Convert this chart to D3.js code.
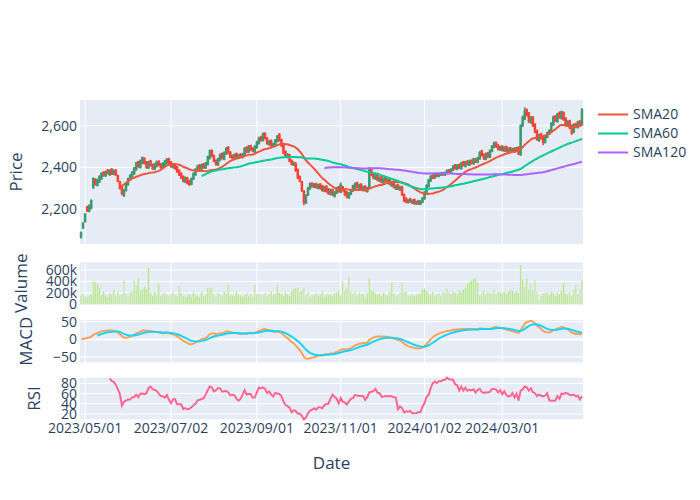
<!DOCTYPE html>
<html><head><meta charset="utf-8">
<script src="https://cdn.jsdelivr.net/npm/d3@7"></script>
<style>body{margin:0;background:#fff}svg{display:block;font-family:"Open Sans",verdana,arial,sans-serif}</style>
</head><body><svg id="c" width="700" height="500"></svg>
<script>
// ---- data ----
const opens = [
2065,2110,2140,2210,2190,2205,2305,2340,2315,2330,
2345,2375,2360,2385,2365,2390,2368,2385,2360,2330,
2305,2265,2290,2318,2340,2355,2370,2390,2425,2400,
2420,2442,2425,2398,2430,2412,2392,2405,2428,2415,
2398,2410,2420,2440,2425,2400,2412,2400,2385,2370,
2355,2330,2348,2335,2320,2345,2365,2385,2410,2392,
2415,2398,2415,2445,2480,2455,2432,2412,2435,2465,
2440,2465,2495,2472,2455,2440,2465,2445,2462,2448,
2460,2495,2475,2502,2490,2475,2495,2515,2545,2530,
2562,2540,2510,2528,2500,2510,2525,2558,2532,2505,
2475,2448,2458,2432,2412,2418,2388,2355,2330,2285,
2230,2268,2298,2322,2305,2320,2300,2318,2310,2288,
2308,2295,2272,2292,2262,2278,2305,2282,2305,2292,
2280,2255,2272,2288,2300,2325,2300,2318,2290,2308,
2285,2300,2390,2370,2345,2368,2335,2355,2325,2350,
2325,2345,2312,2332,2298,2315,2292,2305,2268,2250,
2232,2248,2230,2244,2226,2238,2224,2234,2250,2278,
2310,2336,2360,2350,2366,2358,2364,2372,2364,2372,
2386,2376,2388,2410,2392,2412,2395,2425,2405,2428,
2412,2432,2418,2438,2425,2442,2478,2460,2440,2468,
2450,2478,2498,2518,2505,2485,2500,2480,2498,2475,
2492,2478,2490,2478,2495,2462,2600,2632,2675,2660,
2615,2640,2605,2575,2530,2560,2545,2520,2545,2560,
2572,2605,2645,2620,2662,2635,2662,2635,2600,2622,
2600,2570,2608,2592,2620,2605];
const highs = [
2092,2136,2180,2216,2222,2246,2352,2348,2346,2362,
2376,2381,2384,2392,2390,2396,2390,2391,2364,2336,
2311,2296,2326,2350,2367,2381,2402,2426,2431,2437,
2452,2448,2430,2431,2436,2418,2421,2432,2434,2420,
2424,2436,2445,2446,2430,2421,2418,2406,2390,2376,
2361,2356,2354,2340,2351,2376,2396,2412,2416,2418,
2421,2426,2456,2486,2486,2461,2438,2446,2467,2471,
2476,2498,2502,2478,2461,2466,2471,2464,2468,2469,
2496,2501,2507,2509,2496,2506,2527,2547,2551,2567,
2568,2546,2531,2534,2518,2536,2555,2564,2538,2511,
2481,2468,2464,2438,2428,2424,2394,2361,2336,2290,
2271,2306,2327,2328,2325,2326,2321,2324,2316,2311,
2314,2301,2297,2298,2287,2306,2311,2328,2311,2298,
2286,2281,2297,2316,2327,2331,2321,2324,2311,2314,
2306,2400,2396,2376,2371,2374,2356,2361,2351,2356,
2346,2351,2336,2338,2318,2321,2311,2311,2274,2256,
2248,2254,2246,2250,2240,2244,2242,2258,2286,2318,
2345,2362,2367,2370,2372,2373,2377,2378,2380,2390,
2392,2396,2411,2416,2416,2418,2426,2431,2431,2434,
2437,2438,2446,2444,2451,2478,2484,2466,2471,2474,
2486,2507,2524,2524,2511,2504,2506,2501,2504,2496,
2498,2494,2496,2498,2501,2606,2648,2688,2682,2666,
2646,2646,2611,2581,2561,2566,2551,2556,2571,2582,
2616,2648,2651,2661,2668,2672,2668,2641,2626,2628,
2606,2611,2614,2624,2626,2685];
const lows = [
2058,2104,2135,2186,2184,2198,2296,2312,2308,2325,
2340,2355,2354,2366,2358,2363,2362,2359,2328,2294,
2266,2257,2284,2312,2334,2349,2364,2384,2398,2394,
2414,2414,2393,2392,2404,2388,2386,2399,2405,2394,
2392,2404,2414,2413,2398,2394,2388,2374,2358,2344,
2328,2324,2318,2310,2314,2339,2359,2379,2388,2386,
2393,2392,2409,2438,2448,2424,2408,2406,2429,2438,
2434,2459,2463,2444,2438,2434,2444,2439,2446,2442,
2454,2468,2469,2478,2472,2469,2489,2509,2523,2524,
2533,2508,2504,2498,2494,2504,2519,2523,2498,2462,
2446,2442,2424,2409,2406,2378,2343,2328,2282,2218,
2224,2262,2292,2303,2299,2298,2294,2293,2283,2281,
2278,2268,2265,2262,2255,2272,2278,2276,2283,2263,
2252,2248,2266,2282,2294,2298,2294,2288,2284,2283,
2279,2294,2358,2343,2339,2333,2328,2323,2319,2328,
2319,2313,2306,2298,2291,2291,2286,2262,2232,2228,
2226,2230,2224,2220,2219,2220,2218,2228,2244,2272,
2304,2330,2343,2344,2352,2352,2358,2359,2358,2366,
2372,2370,2382,2389,2386,2392,2389,2404,2399,2409,
2406,2413,2412,2421,2419,2436,2451,2435,2434,2445,
2444,2472,2492,2494,2481,2479,2476,2474,2471,2469,
2474,2472,2469,2472,2458,2455,2594,2626,2644,2613,
2609,2594,2563,2528,2522,2533,2506,2514,2539,2554,
2566,2599,2618,2614,2633,2629,2623,2598,2594,2583,
2555,2564,2588,2586,2594,2599];
const closes = [
2085,2130,2175,2192,2215,2240,2345,2320,2340,2355,
2370,2362,2378,2372,2385,2370,2383,2365,2335,2300,
2275,2290,2320,2345,2360,2375,2395,2420,2405,2430,
2445,2420,2400,2425,2410,2395,2415,2425,2412,2400,
2418,2430,2438,2420,2405,2415,2395,2380,2365,2350,
2335,2350,2325,2318,2345,2370,2390,2405,2395,2412,
2400,2420,2450,2478,2455,2430,2415,2440,2460,2445,
2470,2490,2470,2450,2445,2460,2450,2458,2452,2462,
2490,2475,2500,2485,2478,2500,2520,2540,2530,2560,
2540,2515,2525,2505,2512,2530,2548,2530,2505,2470,
2452,2462,2430,2415,2422,2385,2350,2335,2290,2232,
2265,2300,2320,2310,2318,2305,2315,2300,2290,2305,
2285,2275,2290,2270,2280,2300,2285,2315,2290,2270,
2260,2275,2290,2310,2320,2305,2315,2295,2305,2290,
2300,2385,2365,2350,2365,2340,2350,2330,2345,2335,
2340,2320,2330,2305,2312,2298,2305,2270,2240,2235,
2242,2236,2240,2228,2234,2226,2236,2252,2280,2312,
2338,2356,2350,2364,2359,2367,2371,2365,2374,2384,
2378,2390,2405,2395,2410,2398,2420,2410,2425,2415,
2430,2420,2440,2428,2445,2470,2458,2442,2465,2452,
2480,2500,2515,2500,2488,2498,2482,2495,2478,2490,
2480,2488,2475,2492,2465,2600,2640,2670,2650,2620,
2640,2600,2570,2535,2555,2540,2520,2550,2565,2575,
2610,2640,2625,2655,2640,2665,2630,2605,2620,2590,
2565,2605,2595,2618,2600,2675];
// volume in thousands
const volumesK = [
150,190,140,130,150,170,400,390,350,300,
170,230,160,140,200,180,270,150,220,160,
180,420,190,150,200,230,420,330,460,250,
270,310,270,640,200,160,220,170,370,150,
190,200,170,150,180,220,170,150,330,200,
150,140,160,180,130,210,170,150,140,230,
150,180,300,280,290,180,140,200,170,160,
230,190,340,170,160,150,230,170,160,140,
180,200,150,170,140,350,180,190,170,160,
200,150,180,230,160,190,350,200,170,150,
210,180,160,240,280,290,300,220,240,300,
170,230,140,160,170,200,150,180,230,140,
170,160,180,150,190,210,240,160,400,250,
300,490,220,180,230,150,210,170,190,140,
200,460,260,230,200,170,190,150,210,180,
160,230,390,200,150,180,200,380,220,230,
160,150,170,150,180,170,190,260,280,250,
200,180,220,160,170,200,150,220,200,280,
210,180,230,200,190,250,220,260,300,370,
390,420,460,470,380,160,200,260,180,220,
200,190,270,180,230,210,200,230,190,220,
260,240,200,230,210,700,440,310,450,270,
370,250,420,230,80,150,190,200,210,170,
230,200,150,220,180,240,390,200,170,220,
160,250,350,190,280,430];
const tickLabels = ['2023/05/01','2023/07/02','2023/09/01','2023/11/01','2024/01/02','2024/03/01'];
const tickIdx = [2,44,86,127,168,206];
const smaPeriods = [20,60,120];
const smaNames = ['SMA20','SMA60','SMA120'];
const smaColors = ['#EF553B','#00CC96','#AB63FA'];

// ---- derived indicators (computed from the closes above) ----
const N = closes.length;
const volumes = volumesK.map(v => v * 1000);
function sma(arr, n){ return arr.map((_, i) => i < n-1 ? null : d3.mean(arr.slice(i-n+1, i+1))); }
function ewm(arr, span){ const a = 2/(span+1); let num=0, den=0; return arr.map(v => { num = v + (1-a)*num; den = 1 + (1-a)*den; return num/den; }); }
const ema12 = ewm(closes, 12), ema26 = ewm(closes, 26);
const macd = ema12.map((v,i) => v - ema26[i]);
const signalFull = ewm(macd, 9);
const signal = signalFull.map((v,i) => i < 8 ? null : v);
const rsi = closes.map((c,i) => {
  if (i < 14) return null;
  let g=0, l=0;
  for (let k=i-13;k<=i;k++){ const d = closes[k]-closes[k-1]; if (d>0) g+=d; else l-=d; }
  if (l===0) return 100;
  return 100 - 100/(1+g/l);
});
const smas = smaPeriods.map(p => sma(closes, p));

// ---- drawing ----
const svg = d3.select('#c');
const txt = '#2a3f5f', bg = '#E5ECF6';
const L = 80, R = 583;
const x = d3.scaleLinear().domain([-0.5, N-0.5]).range([L, R]);
const step = x(1) - x(0);

const panels = [
  {name:'Price', top:100, bot:244, dom:[2032,2723], ticks:[2200,2400,2600], fmt:d3.format(','), tx:22},
  {name:'Valume', top:262.3, bot:304.3, dom:[0,735000], ticks:[0,200000,400000,600000], fmt:d => d===0?'0':d3.format('~s')(d), tx:27},
  {name:'MACD', top:320, bot:362.3, dom:[-65,55], ticks:[-50,0,50], fmt:d3.format('d'), tx:32, zero:true},
  {name:'RSI', top:377.7, bot:419.3, dom:[9.6,91], ticks:[20,40,60,80], fmt:d3.format('d'), tx:40}
];
panels.forEach(p => {
  p.y = d3.scaleLinear().domain(p.dom).range([p.bot, p.top]);
  const g = svg.append('g');
  g.append('rect').attr('x', L).attr('y', p.top).attr('width', R-L).attr('height', p.bot-p.top).attr('fill', bg);
  g.selectAll('line.vg').data(tickIdx).join('line')
    .attr('x1', d => x(d)).attr('x2', d => x(d)).attr('y1', p.top).attr('y2', p.bot)
    .attr('stroke', '#fff').attr('stroke-width', 1);
  g.selectAll('line.hg').data(p.ticks).join('line')
    .attr('x1', L).attr('x2', R).attr('y1', d => p.y(d)).attr('y2', d => p.y(d))
    .attr('stroke', '#fff').attr('stroke-width', d => (d===0 && p.zero) ? 2 : 1);
  const ax = d3.axisLeft(p.y).tickValues(p.ticks).tickFormat(p.fmt).tickSize(0).tickPadding(3);
  const ag = svg.append('g').attr('transform', `translate(${L},0)`).call(ax);
  ag.select('.domain').remove();
  ag.selectAll('text').attr('fill', txt).style('font-size', '14px').style('font-family', '"Open Sans",verdana,arial,sans-serif');
  svg.append('text').attr('transform', `translate(${p.tx},${(p.top+p.bot)/2}) rotate(-90)`)
    .attr('text-anchor', 'middle').attr('fill', txt).style('font-size', '17px').text(p.name);
});

// candles
const yP = panels[0].y;
const cg = svg.append('g');
const inc = '#3D9970', dec = '#FF4136';
const bw = step * 0.45;
d3.range(N).forEach(i => {
  const col = closes[i] >= opens[i] ? inc : dec;
  const cx = x(i);
  cg.append('line').attr('x1', cx).attr('x2', cx).attr('y1', yP(highs[i])).attr('y2', yP(lows[i]))
    .attr('stroke', col).attr('stroke-width', 1.6);
  const y1 = yP(Math.max(opens[i], closes[i])), y2 = yP(Math.min(opens[i], closes[i]));
  cg.append('rect').attr('x', cx - bw/2).attr('y', y1).attr('width', bw).attr('height', Math.max(0.1, y2-y1))
    .attr('fill', col).attr('stroke', col).attr('stroke-width', 1.6);
});

// SMA lines
smas.forEach((s, k) => {
  const line = d3.line().defined(d => d != null).x((d,i) => x(i)).y(d => yP(d));
  svg.append('path').datum(s).attr('d', line).attr('fill', 'none')
    .attr('stroke', smaColors[k]).attr('stroke-width', 2);
});

// volume
const pv = panels[1];
svg.append('g').selectAll('rect').data(volumes).join('rect')
  .attr('x', (d,i) => x(i) - step*0.4).attr('width', step*0.8)
  .attr('y', d => pv.y(d)).attr('height', d => pv.y(0) - pv.y(d))
  .attr('fill', '#B6E880').attr('stroke', bg).attr('stroke-width', 0.5);

// MACD
const pm = panels[2];
const lm = d3.line().defined(d => d != null).x((d,i) => x(i)).y(d => pm.y(d));
svg.append('path').datum(macd).attr('d', lm).attr('fill','none').attr('stroke','#FFA15A').attr('stroke-width',2);
svg.append('path').datum(signal).attr('d', lm).attr('fill','none').attr('stroke','#19D3F3').attr('stroke-width',2);

// RSI
const pr = panels[3];
const lr = d3.line().defined(d => d != null).x((d,i) => x(i)).y(d => pr.y(d));
svg.append('path').datum(rsi).attr('d', lr).attr('fill','none').attr('stroke','#FF6692').attr('stroke-width',2);

// x tick labels
svg.append('g').selectAll('text').data(tickIdx).join('text')
  .attr('x', d => x(d)).attr('y', 433).attr('text-anchor','middle').attr('fill', txt)
  .style('font-size','14px').text((d,i) => tickLabels[i]);
svg.append('text').attr('x', (L+R)/2).attr('y', 469).attr('text-anchor','middle').attr('fill', txt)
  .style('font-size','17px').text('Date');

// legend
const lg = svg.append('g');
smaNames.forEach((n, k) => {
  const yy = 114.5 + k*19;
  lg.append('line').attr('x1', 598).attr('x2', 628).attr('y1', yy).attr('y2', yy)
    .attr('stroke', smaColors[k]).attr('stroke-width', 2);
  lg.append('text').attr('x', 633).attr('y', yy).attr('dy', '0.35em').attr('fill', txt)
    .style('font-size','14px').text(n);
});
</script></body></html>
